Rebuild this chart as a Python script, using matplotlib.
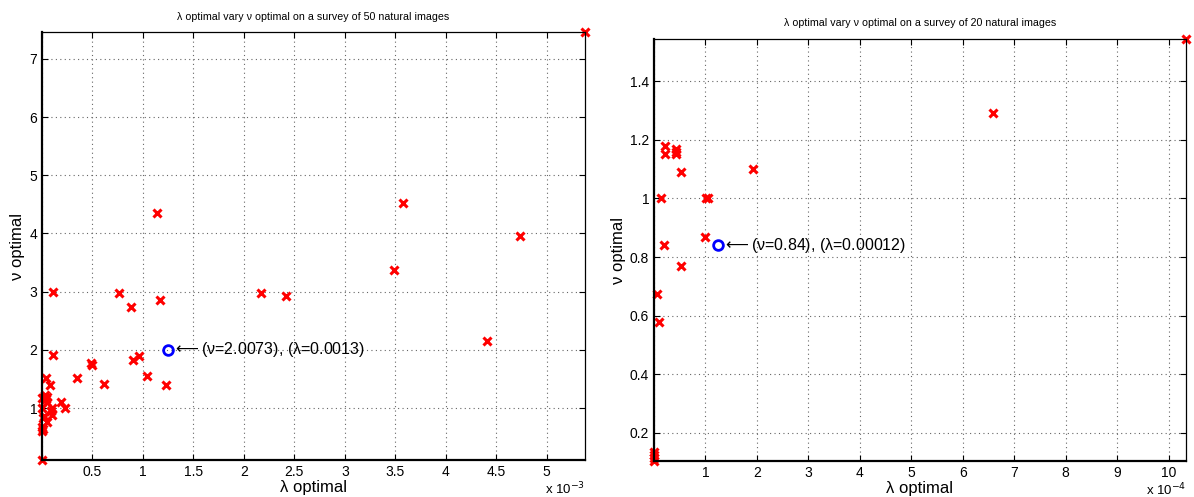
import matplotlib
matplotlib.use("Agg")
from matplotlib import pyplot as plt
from matplotlib.ticker import FuncFormatter

plt.rcParams['font.family'] = ['Liberation Sans', 'DejaVu Sans']

# survey of 50 images (lambda in real units)
lam50 = [0.00538, 0.00114, 0.00358, 0.00474, 0.00349, 0.00011, 0.00076, 0.00217,
         0.00242, 0.00117, 0.00088, 0.00441, 0.00011, 0.00096, 0.00090, 0.00049,
         0.00050, 0.00104, 0.00035, 0.00004, 0.00061, 0.00123, 0.00008, 0.00002,
         0.00005, 0.00000, 0.00004, 0.00005, 0.00019, 0.00023, 0.00010, 0.00000,
         0.00010, 0.00002, 0.00005, 0.00000, 0.00000, 0.00000, 0.00003, 0.00001,
         0.00009, 0.00001]
nu50 = [7.46, 4.36, 4.53, 3.96, 3.37, 2.99, 2.97, 2.97,
        2.93, 2.85, 2.74, 2.15, 1.92, 1.89, 1.83, 1.77,
        1.75, 1.55, 1.51, 1.51, 1.42, 1.39, 1.39, 1.20,
        1.19, 1.17, 1.16, 1.11, 1.11, 1.01, 1.01, 1.01,
        0.89, 0.86, 0.77, 0.68, 0.60, 0.11, 1.22, 0.64,
        0.95, 0.83]
best50 = (0.00125, 2.0073)

# survey of 20 images
lam20 = [0.000022, 0.000022, 0.000042, 0.000042, 0.000042, 0.000052, 0.000192,
         0.000013, 0.000101, 0.000104, 0.000100, 0.000019, 0.000052, 0.000005,
         0.000009, 0.0, 0.0, 0.0, 0.0, 0.000659, 0.001034]
nu20 = [1.18, 1.15, 1.17, 1.16, 1.15, 1.09, 1.10,
        1.00, 1.00, 1.00, 0.87, 0.84, 0.77, 0.675,
        0.58, 0.105, 0.115, 0.125, 0.135, 1.29, 1.544]
best20 = (0.000124, 0.84)

fig = plt.figure(figsize=(11.94, 4.97), dpi=100)
ax1 = fig.add_axes([42/1194, 1-460/497, (585-42)/1194, (460-32)/497])
ax2 = fig.add_axes([654/1194, 1-461/497, (1186-654)/1194, (461-39)/497])


def style(ax, scale, expo):
    ax.grid(True, linestyle=(0, (1, 3)), color='#666666', linewidth=0.8)
    ax.tick_params(direction='in', top=True, right=True, labelsize=10,
                   length=4, colors='black')
    for s in ['left', 'bottom']:
        ax.spines[s].set_linewidth(1.6)
    for s in ['top', 'right']:
        ax.spines[s].set_linewidth(0.9)
    ax.xaxis.set_major_formatter(FuncFormatter(lambda v, p: '%g' % round(v*scale, 6) if v > 0 else ''))
    ax.text(1.0, -0.068, r'x 10$^{%d}$' % expo, transform=ax.transAxes,
            ha='right', va='center', fontsize=9.5)
    ax.set_xlabel('λ optimal', fontsize=12, labelpad=1)
    ax.set_ylabel('ν optimal', fontsize=12, labelpad=3)


# left chart
ax1.plot(lam50, nu50, 'x', color='red', markersize=6, mew=2.2, clip_on=False)
ax1.plot(*best50, 'o', color='blue', mfc='none', markersize=7, mew=2)
ax1.text(best50[0] + 0.00004, best50[1], r'$\longleftarrow$(ν=2.0073), (λ=0.0013)',
         va='center', fontsize=11.5)
ax1.set_xlim(0, 0.00538)
ax1.set_ylim(0.11, 7.46)
ax1.set_xticks([i*0.0005 for i in range(0, 11)])
ax1.set_yticks([1, 2, 3, 4, 5, 6, 7])
ax1.set_title('λ optimal vary ν optimal on a survey of 50 natural images',
              fontsize=7.7, pad=9)
style(ax1, 1e3, -3)

# right chart
ax2.plot(lam20, nu20, 'x', color='red', markersize=6, mew=2.2, clip_on=False)
ax2.plot(*best20, 'o', color='blue', mfc='none', markersize=7, mew=2)
ax2.text(best20[0] + 0.000008, best20[1], r'$\longleftarrow$(ν=0.84), (λ=0.00012)',
         va='center', fontsize=11.5)
ax2.set_xlim(0, 0.001034)
ax2.set_ylim(0.104, 1.544)
ax2.set_xticks([i*0.0001 for i in range(0, 11)])
ax2.set_yticks([0.2, 0.4, 0.6, 0.8, 1.0, 1.2, 1.4])
ax2.yaxis.set_major_formatter(FuncFormatter(lambda v, p: '%g' % round(v, 3)))
ax2.set_title('λ optimal vary ν optimal on a survey of 20 natural images',
              fontsize=7.7, pad=9)
style(ax2, 1e4, -4)

fig.savefig('out.png', dpi=100)
